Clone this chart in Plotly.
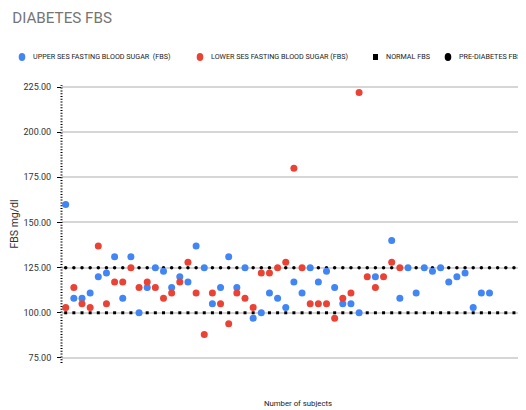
import plotly.graph_objects as go

# ---- data ----
upper_ses = [160, 108, 108, 111, 120, 122, 131, 108, 131, 100,
             114, 125, 123, 114, 120, 117, 137, 125, 105, 114,
             131, 114, 125, 97, 100, 111, 108, 103, 117, 111,
             125, 117, 123, 114, 105, 105, 100, None, 120, None,
             140, 108, 125, 111, 125, 123, 125, 117, 120, 122,
             103, 111, 111]
lower_ses = [103, 114, 105, 103, 137, 105, 117, 117, 125, 114,
             117, 114, 108, 111, 117, 128, 111, 88, 111, 105,
             94, 111, 108, 103, 122, 122, 125, 128, 180, 125,
             105, 105, 105, 97, 108, 111, 222, 120, 114, 120,
             128, 125]
n_reference = 58
normal_fbs_value = 100
prediabetes_fbs_value = 125
y_ticks = [75, 100, 125, 150, 175, 200, 225]

series_names = ["UPPER SES FASTING BLOOD SUGAR  (FBS)",
                "LOWER SES FASTING BLOOD SUGAR (FBS)",
                "NORMAL FBS",
                "PRE-DIABETES FBS"]

subjects_upper = list(range(1, len(upper_ses) + 1))
subjects_lower = list(range(1, len(lower_ses) + 1))
subjects_ref = list(range(1, n_reference + 1))
normal_fbs = [normal_fbs_value] * n_reference
prediabetes_fbs = [prediabetes_fbs_value] * n_reference

BLUE = "#4285F4"
RED = "#EA4335"
FONT = "Roboto, Arial, sans-serif"

OFF = 8  # the page body margin shifts the figure by 8 px
W, H = 526, 410
ML, MT = 62 - OFF, 87 - 2 - OFF
PLOT_BOTTOM = 363 - OFF
MR, MB = 0, H - PLOT_BOTTOM
PW, PH = W - ML - MR, H - MT - MB


def px_x(px):
    return (px - OFF - ML) / PW


def px_y(py):
    return (PLOT_BOTTOM - (py - OFF)) / PH


fig = go.Figure()

fig.add_trace(go.Scatter(x=subjects_ref, y=normal_fbs, mode="markers", name=series_names[2],
                         marker=dict(symbol="square", size=3, color="black"),
                         showlegend=False, hoverinfo="skip"))
fig.add_trace(go.Scatter(x=subjects_ref, y=prediabetes_fbs, mode="markers", name=series_names[3],
                         marker=dict(symbol="circle", size=3.5, color="black"),
                         showlegend=False, hoverinfo="skip"))
fig.add_trace(go.Scatter(x=subjects_upper, y=upper_ses, mode="markers",
                         name=series_names[0], showlegend=False,
                         marker=dict(size=7, color=BLUE)))
fig.add_trace(go.Scatter(x=subjects_lower, y=lower_ses, mode="markers",
                         name=series_names[1], showlegend=False,
                         marker=dict(size=7, color=RED)))

# dotted left axis line
fig.add_shape(type="line", xref="paper", yref="paper", x0=px_x(61.5), x1=px_x(61.5),
              y0=0, y1=1, line=dict(color="black", width=2, dash="1px,1.8px"))

# ---- legend row (drawn manually so it stays on one line, as in the reference) ----
legend_y = 57
legend_items = [  # (symbol centre x, text start x, colour, kind)
    (22, 31, BLUE, "circle"),
    (200, 209, RED, "circle"),
    (375.5, 384, "black", "square"),
    (448, 457, "black", "circle"),
]
annotations = []
for (cx, tx, col, kind), name in zip(legend_items, series_names):
    if kind == "circle":
        fig.add_shape(type="circle", xref="paper", yref="paper",
                      x0=px_x(cx - 3.3), x1=px_x(cx + 3.3),
                      y0=px_y(legend_y + 4), y1=px_y(legend_y - 4),
                      fillcolor=col, line=dict(width=0))
    else:
        fig.add_shape(type="rect", xref="paper", yref="paper",
                      x0=px_x(cx - 2.5), x1=px_x(cx + 2.5),
                      y0=px_y(legend_y + 3), y1=px_y(legend_y - 3),
                      fillcolor=col, line=dict(width=0))
    annotations.append(dict(text=name, xref="paper", yref="paper", x=px_x(tx), y=px_y(legend_y),
                            xanchor="left", yanchor="middle", showarrow=False,
                            font=dict(family=FONT, size=7.2, color="#222222")))

x_left = 1 - (65.7 - 62) / 8.15
x_right = x_left + PW / 8.15
y_bottom = 72.2
y_top = y_bottom + PH / 1.806

fig.update_layout(
    width=W, height=H,
    margin=dict(l=ML, r=MR, t=MT, b=MB, autoexpand=False),
    paper_bgcolor="white", plot_bgcolor="white",
    font=dict(family=FONT, size=9, color="#222222"),
    title=dict(text="DIABETES FBS", x=0.008, xanchor="left", y=1 - 10 / H, yanchor="middle",
               font=dict(family=FONT, size=15.2, color="#757575")),
    showlegend=False,
    annotations=annotations,
)
fig.update_xaxes(range=[x_left, x_right], showgrid=False, zeroline=False,
                 showticklabels=False, ticks="", automargin=False,
                 title=dict(text="Number of subjects", standoff=37,
                            font=dict(family=FONT, size=7.8, color="#222222")))
fig.update_yaxes(range=[y_bottom, y_top], tickvals=y_ticks,
                 tickformat=".2f", showgrid=True, gridcolor="#d6d6d6", gridwidth=1.5,
                 zeroline=False, ticks="outside", ticklen=4, tickcolor="black",
                 ticklabelstandoff=4, automargin=False,
                 tickfont=dict(family=FONT, size=9, color="#333333"),
                 title=dict(text="FBS mg/dl", standoff=7,
                            font=dict(family=FONT, size=10.5, color="#333333")))

fig.write_html("out.html")
